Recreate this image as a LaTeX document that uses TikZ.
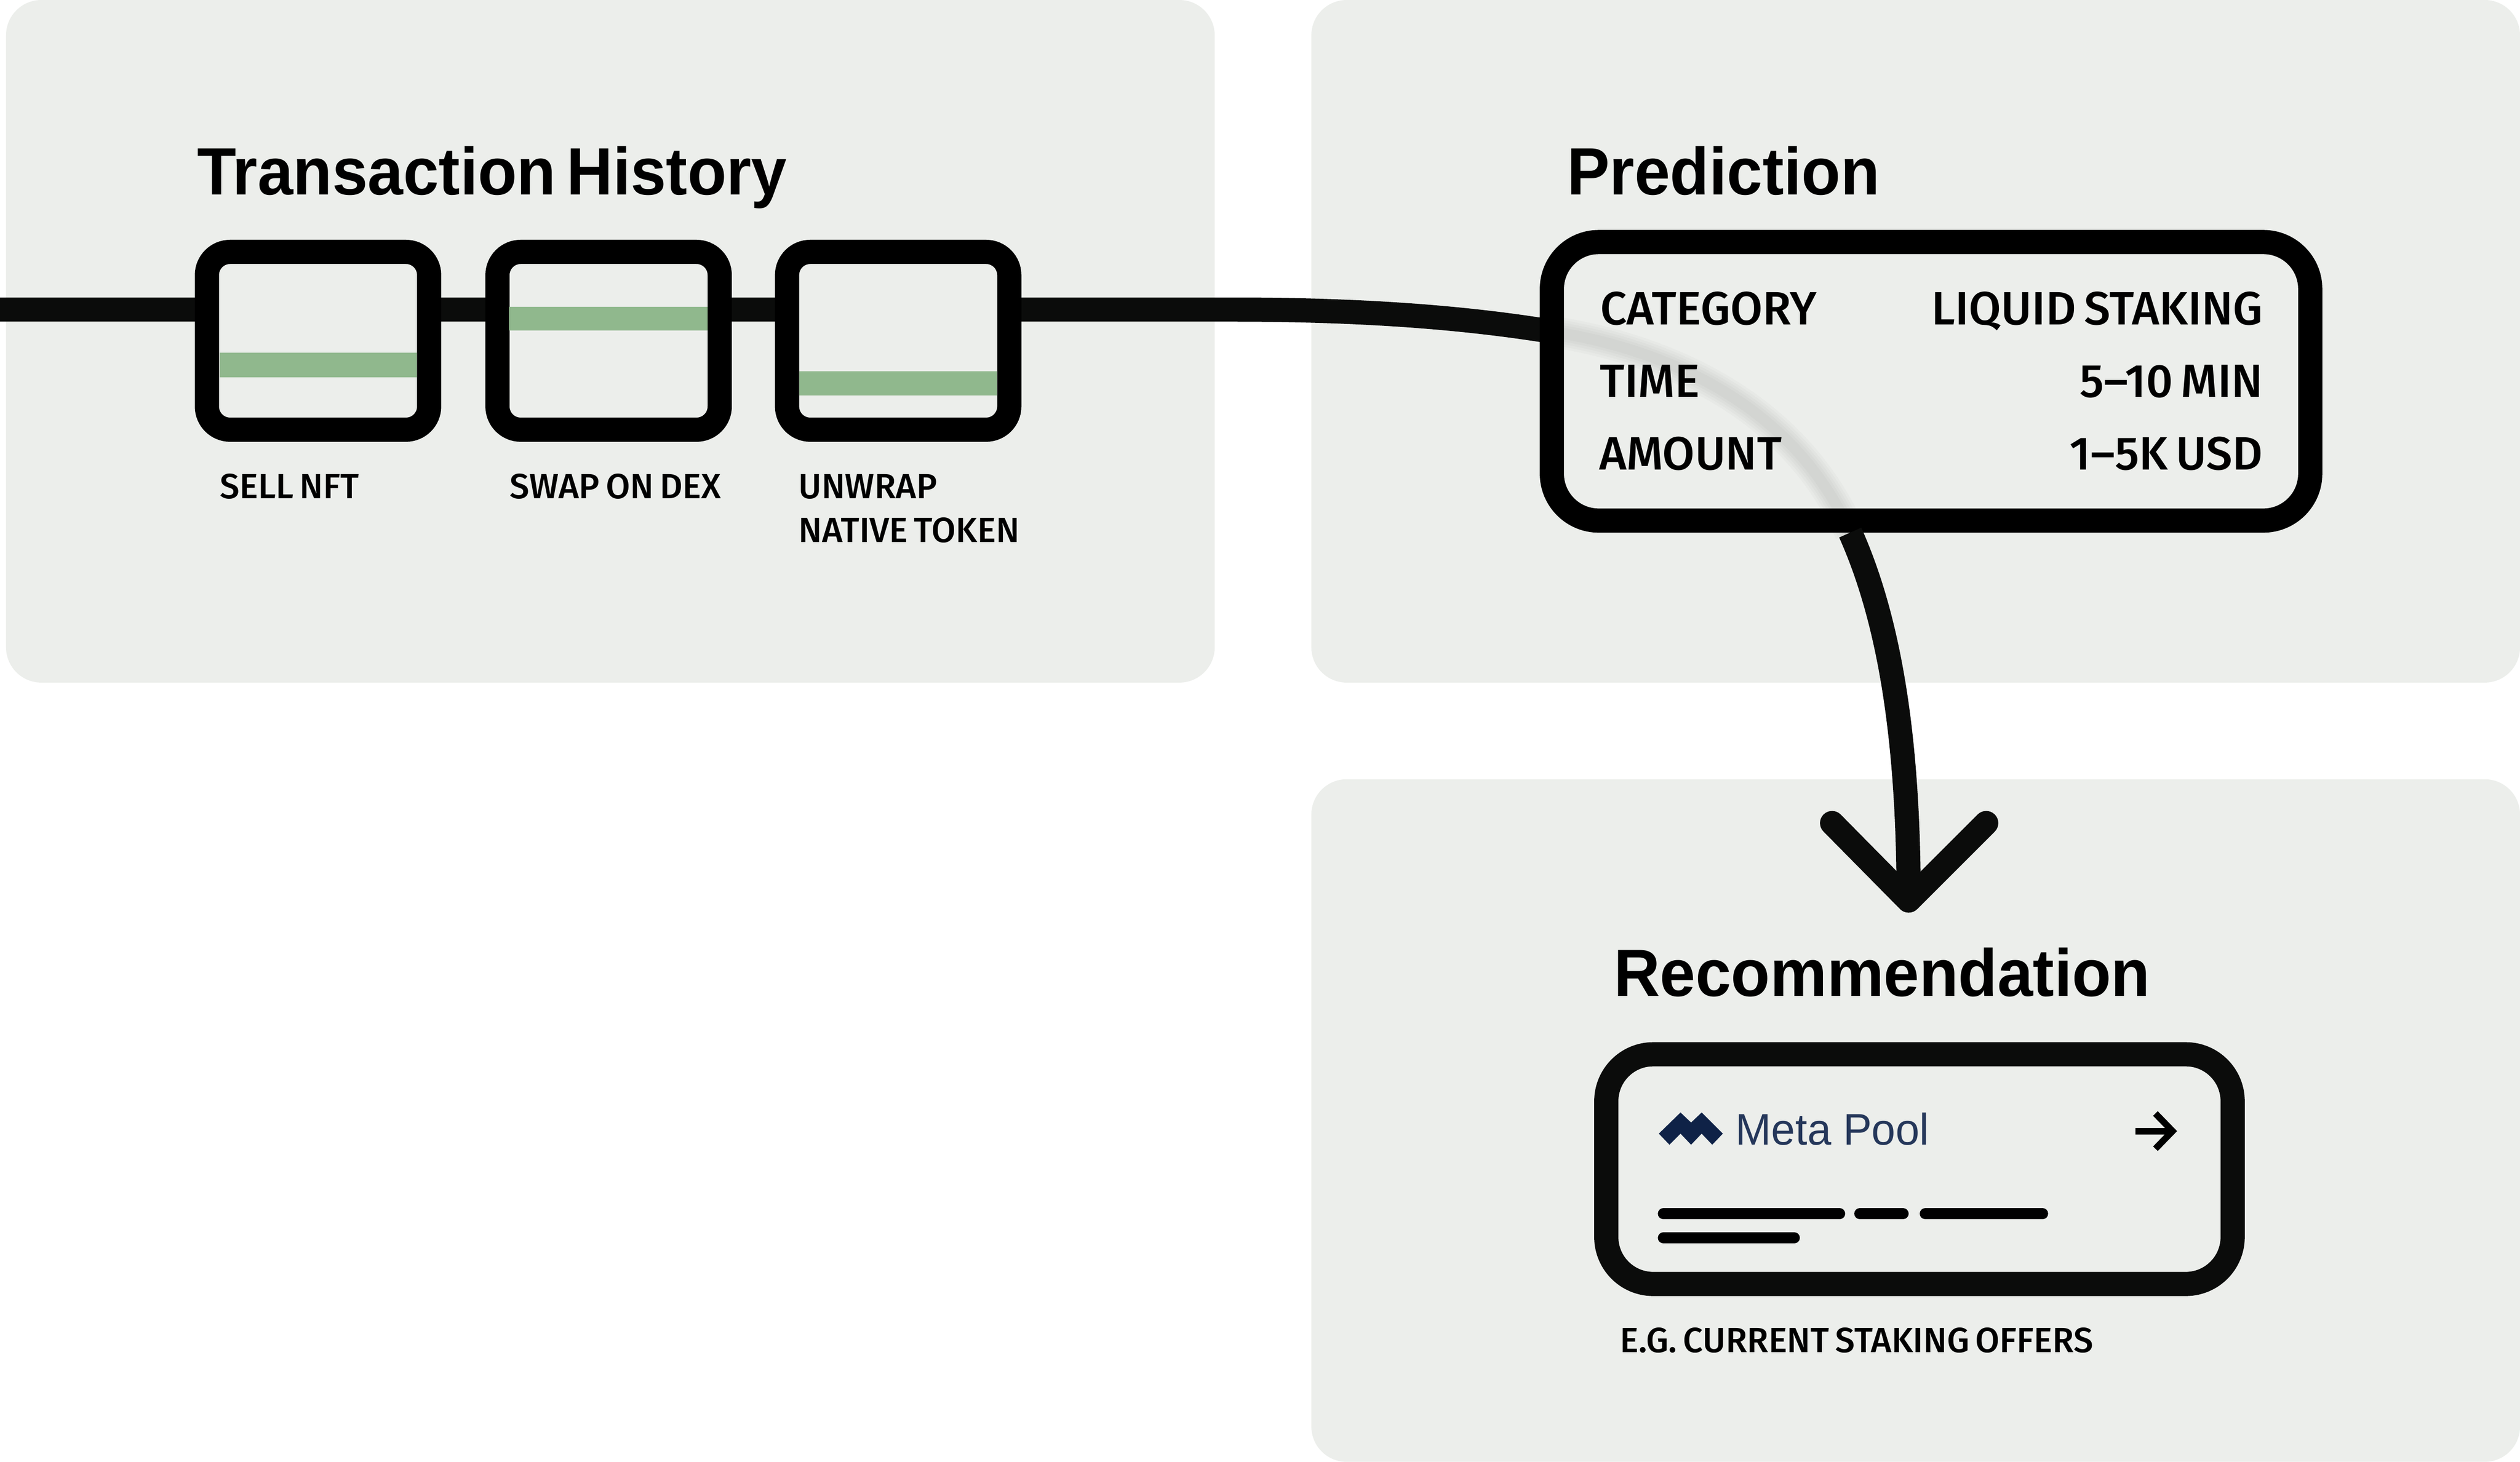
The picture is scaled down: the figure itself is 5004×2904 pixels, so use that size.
\documentclass[tikz,border=0pt]{standalone}
\usepackage{fontspec}
\usepackage{tikz}
\usetikzlibrary{calc}
\setmainfont{Liberation Sans}
\newfontfamily\titlefont{Liberation Sans Bold}[FakeStretch=0.955,WordSpace=0.6]
\newfontfamily\labelfont{Fira Sans Medium}[WordSpace=0.7]
\newfontfamily\brandfont{Liberation Sans}[FakeStretch=0.97]
\definecolor{panelgray}{RGB}{236,238,235}
\definecolor{inkblack}{RGB}{11,12,11}
\definecolor{tokengreen}{RGB}{144,184,141}
\definecolor{metanavy}{RGB}{37,55,90}
\definecolor{logonavy}{RGB}{15,34,71}

\begin{document}
\begin{tikzpicture}[x=0.01cm,y=-0.01cm]
    % Styles
    \tikzset{panel/.style    ={fill=panelgray,rounded corners=0.7cm}}
    \tikzset{flowline/.style ={draw=inkblack,line width=0.48cm}}
    \tikzset{blockbox/.style ={draw=black,fill=panelgray,line width=0.48cm,rounded corners=0.46cm,
                               minimum width=4.41cm,minimum height=3.53cm,inner sep=0pt}}
    \tikzset{cardbox/.style  ={fill=panelgray,line width=0.48cm,rounded corners=0.93cm,inner sep=0pt}}
    \tikzset{tokenbar/.style ={fill=tokengreen}}
    \tikzset{skeleton/.style ={draw=black,line width=0.22cm,line cap=round}}
    \tikzset{heading/.style  ={anchor=base west,inner sep=0pt,font=\titlefont\fontsize{37.8}{40}\selectfont}}
    \tikzset{rowleft/.style  ={anchor=base west,inner sep=0pt,font=\labelfont\fontsize{26.4}{28}\selectfont}}
    \tikzset{rowright/.style ={anchor=base east,inner sep=0pt,font=\labelfont\fontsize{26.4}{28}\selectfont}}
    \tikzset{caption/.style  ={anchor=base west,inner sep=0pt,font=\labelfont\fontsize{19.8}{21}\selectfont}}

    \useasboundingbox (0,0) rectangle (5004,2904);

    % Panels
    \fill[panel] (12,0) rectangle (2412,1356);
    \fill[panel] (2604,0) rectangle (5004,1356);
    \fill[panel] (2604,1548) rectangle (5004,2904);

    % Connector ends
    \coordinate (chainstart) at (0,615);
    \coordinate (chainbend) at (2450,615);
    \coordinate (predin) at (3070,657);
    \coordinate (predout) at (3674,1058);
    \coordinate (recotip) at (3790,1789);
    \coordinate (tipleft) at (3638,1635);
    \coordinate (tipright) at (3944,1635);

    % Chain into the prediction
    \draw[flowline] (chainstart) -- (chainbend) .. controls (2700,615) and (2900,630) .. (predin);

    % Transaction blocks
    \node[heading] (txtitle) at (391,387) {Transaction History};
    \node[blockbox] (sellbox) at (631.5,677) {};
    \node[blockbox] (swapbox) at (1208.5,677) {};
    \node[blockbox] (unwrapbox) at (1783.5,677) {};
    \fill[tokenbar] (436,701) rectangle (828,750);
    \fill[tokenbar] (1011,609) rectangle (1405,657);
    \fill[tokenbar] (1587,738) rectangle (1980,786);
    \node[caption] (selllabel) at (436,990) {SELL NFT};
    \node[caption] (swaplabel) at (1012,990) {SWAP ON DEX};
    \node[caption] (unwraplabel) at (1585,990) {UNWRAP};
    \node[caption] (nativelabel) at (1585,1077) {NATIVE TOKEN};

    % Prediction
    \node[heading] (predtitle) at (3111,387) {Prediction};
    \node[cardbox,draw=black,minimum width=15.05cm,minimum height=5.53cm] (predbox) at (3834.5,757.5) {};
    \foreach \w in {0.62,0.52,0.42,0.32,0.22}
      \draw[line width=\w cm,black,opacity=0.02] (predin) .. controls (3300,690) and (3560,800) .. (predout);
    \node[rowleft] (catkey) at (3177,645) {CATEGORY};
    \node[rowright] (catval) at (4494,645) {LIQUID STAKING};
    \node[rowleft] (timekey) at (3176,789) {TIME};
    \node[rowright] (timeval) at (4494,789) {5–10 MIN};
    \node[rowleft] (amtkey) at (3175,933) {AMOUNT};
    \node[rowright] (amtval) at (4494,933) {1–5K USD};

    % Prediction down to recommendation
    \draw[flowline] (predout) .. controls (3760,1250) and (3790,1500) .. (recotip);
    \draw[flowline,line cap=round,line join=round] (tipleft) -- (recotip) -- (tipright);

    % Recommendation
    \node[heading] (recotitle) at (3204,1979) {Recommendation};
    \node[cardbox,draw=inkblack,minimum width=12.43cm,minimum height=4.56cm] (recobox) at (3811.5,2322.5) {};
    \fill[logonavy] (3294,2252) -- (3337,2210) -- (3358,2230) -- (3379,2210) -- (3421,2252) -- (3400,2274)
      -- (3379,2252) -- (3358,2274) -- (3337,2252) -- (3315,2274) -- cycle;
    \node[anchor=base west,inner sep=0pt,text=metanavy,font=\brandfont\fontsize{25}{28}\selectfont] (metalabel) at (3446,2274) {Meta Pool};
    \draw[black,line width=0.13cm] (4240,2247) -- (4314,2247);
    \draw[black,line width=0.13cm] (4280,2212) -- (4314,2247) -- (4280,2282);
    \draw[skeleton] (3303,2411) -- (3653,2411);
    \draw[skeleton] (3693,2411) -- (3779,2411);
    \draw[skeleton] (3823,2411) -- (4056,2411);
    \draw[skeleton] (3303,2459) -- (3563,2459);
    \node[caption] (offerlabel) at (3216,2687) {E.G. CURRENT STAKING OFFERS};
  \end{tikzpicture}
\end{document}
